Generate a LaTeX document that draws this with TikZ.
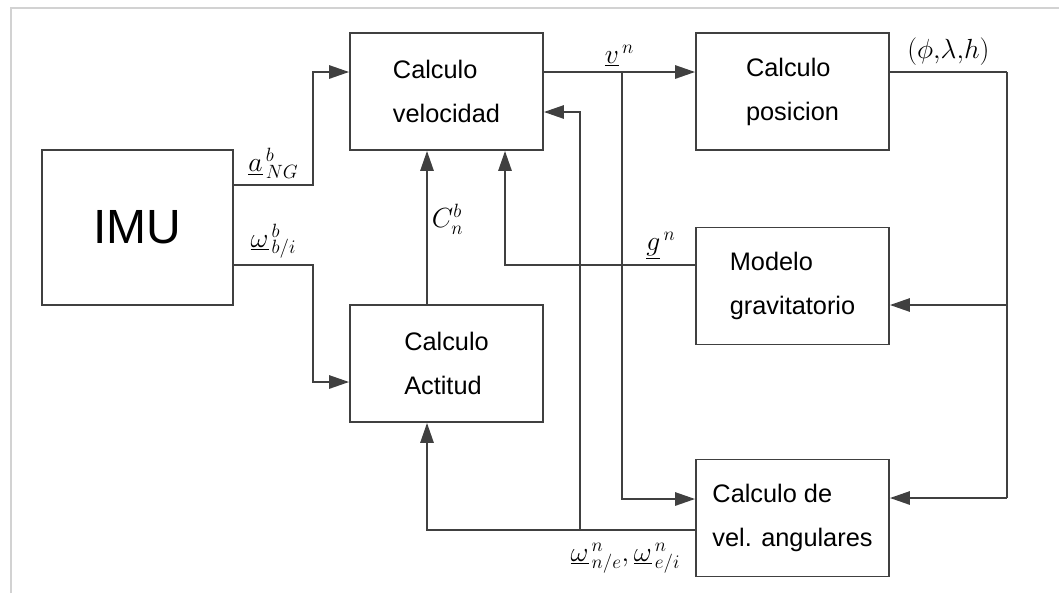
\documentclass[tikz,border=0pt]{standalone}
\usepackage{fontspec}
\newfontfamily\boxfont{Liberation Sans}
\usetikzlibrary{arrows.meta, positioning, calc}

\begin{document}
\begin{tikzpicture}[
    x=0.75pt, y=-0.75pt,
    % Block styling
    block/.style={
        draw=black!75,
        line width=1.4pt,
        minimum width=144.75pt,
        minimum height=87.75pt,
        align=left,
        font=\boxfont\fontsize{19}{33}\selectfont
    },
    imu_block/.style={block, minimum width=143.25pt, minimum height=116.25pt,
        font=\boxfont\fontsize{36}{40}\selectfont},
    flow/.style={draw=black!75, line width=1.4pt, ->},
    wire/.style={draw=black!75, line width=1.4pt},
    label_node/.style={font=\fontsize{20}{24}\selectfont, inner sep=1pt},
    >={Triangle[length=15pt, width=10pt]}
]
    \useasboundingbox (0,0) rectangle (1059,593);

    % ==========================================
    % 1. PAGE SHADOW EDGE
    % ==========================================
    \draw[gray!35, line width=2pt] (11,593) -- (11,8) -- (1059,8);

    % ==========================================
    % 2. BLOCKS
    % ==========================================
    \node[imu_block] (imu) at (137.5,227.5) {IMU};
    \node[block] (vel) at (446.5,91.5) {Calculo\\velocidad};
    \node[block] (pos) at (792.5,91.5) {Calculo\\posicion};
    \node[block] (act) at (446.5,363.5) {Calculo\\Actitud};
    \node[block] (grav) at (792.5,286) {Modelo\\gravitatorio};
    \node[block] (ang) at (792.5,518) {Calculo de\\vel. angulares};

    % Junction points of the branching lines
    \coordinate (vbranch) at (622,72);
    \coordinate (wbranch) at (580,530);

    % ==========================================
    % 3. CONNECTIONS
    % ==========================================
    % IMU outputs
    \draw[flow] ($(imu.east)+(0,-42.5)$) -- ++(79,0)
        node[label_node, midway, above=3pt] {$\underline{a}^{\,b}_{\,NG}$}
        |- ($(vel.west)+(0,-19.5)$);
    \draw[flow] ($(imu.east)+(0,37.5)$) -- ++(79,0)
        node[label_node, midway, above=3pt] {$\underline{\omega}^{\,b}_{\,b/i}$}
        |- ($(act.west)+(0,18.5)$);

    % Attitude to velocity
    \draw[flow] ($(act.north)+(-19.5,0)$) -- ($(vel.south)+(-19.5,0)$)
        node[label_node, midway, right=2pt, yshift=6pt] {$C^{b}_{n}$};

    % Velocity to position and angular rates
    \draw[flow] ($(vel.east)+(0,-19.5)$) -- ($(pos.west)+(0,-19.5)$)
        node[label_node, midway, above=3pt] {$\underline{v}^{\,n}$};
    \draw[flow] (vbranch) |- ($(ang.west)+(0,-19)$);

    % Position feedback
    \draw[wire] ($(pos.east)+(0,-19.5)$) -- ++(117,0) coordinate (rbranch)
        node[label_node, midway, above=3pt] {$(\phi,\!\lambda,\!h)$};
    \draw[wire] (rbranch) -- ($(rbranch |- ang.east)+(0,-20)$);
    \draw[flow] ($(rbranch |- grav.east)+(0,19)$) -- ($(grav.east)+(0,19)$);
    \draw[flow] ($(rbranch |- ang.east)+(0,-20)$) -- ($(ang.east)+(0,-20)$);

    % Gravity to velocity
    \draw[flow] ($(grav.west)+(0,-21)$) -| ($(vel.south)+(58.5,0)$)
        node[label_node, pos=0.09, above=3pt] {$\underline{g}^{\,n}$};

    % Angular rates to attitude and velocity
    \draw[flow] ($(ang.west)+(0,12)$) -| ($(act.south)+(-19.5,0)$)
        node[label_node, pos=0.13, below=8pt]
        {$\underline{\omega}^{\,n}_{\,n/e},\underline{\omega}^{\,n}_{\,e/i}$};
    \draw[flow] (wbranch) |- ($(vel.east)+(0,20.5)$);

\end{tikzpicture}
\end{document}
